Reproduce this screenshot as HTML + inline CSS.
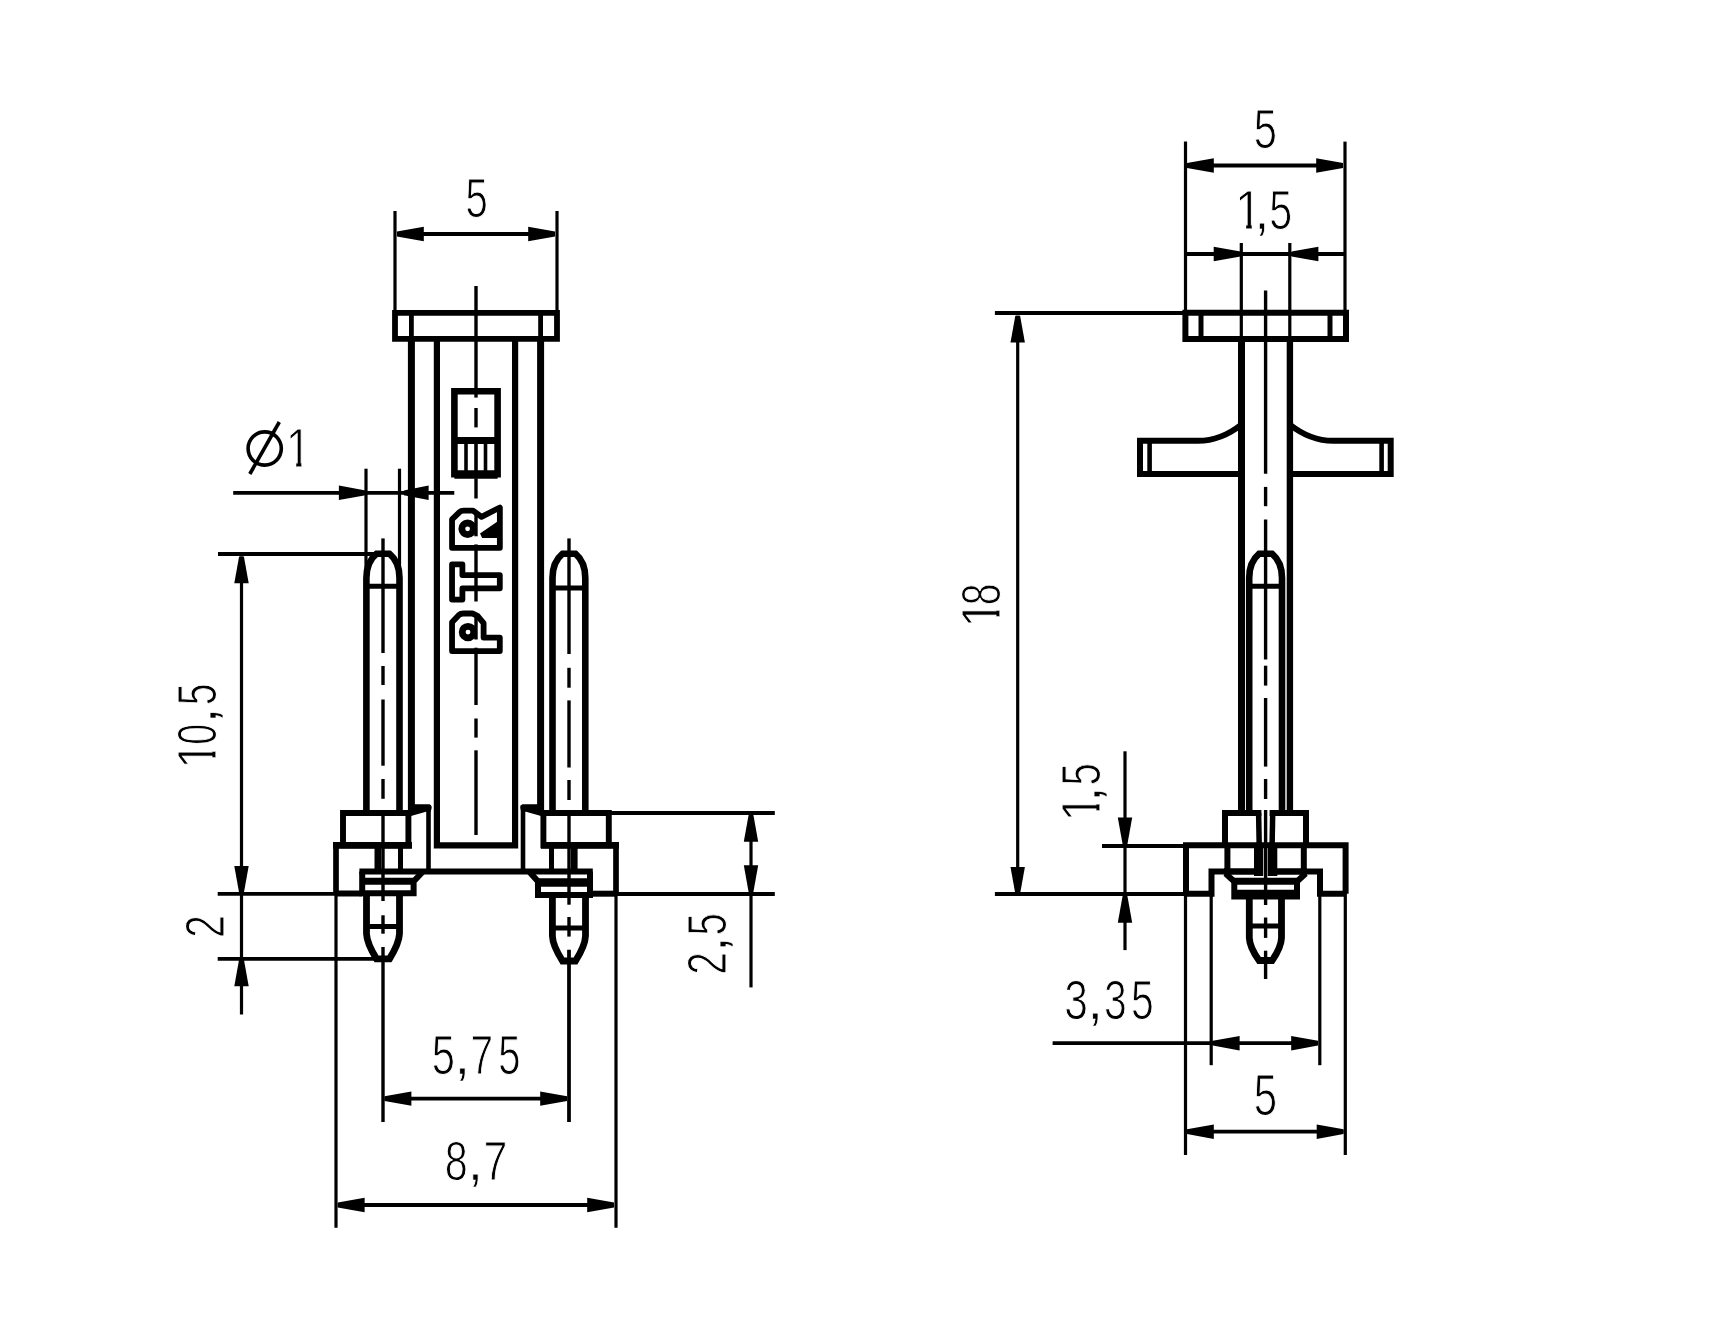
<!DOCTYPE html>
<html><head><meta charset="utf-8"><title>Connector drawing</title>
<style>
html,body{margin:0;padding:0;background:#fff;width:1709px;height:1324px;overflow:hidden}
svg{display:block;will-change:transform}
svg line,svg path,svg circle{stroke:#000}
.fl{fill:#000;stroke:none}
text.cm{stroke-width:0.7px}
.ah{fill:#000;stroke:none}
text{font-family:"Liberation Sans",sans-serif;fill:#000;stroke:#fff;stroke-width:1.1px}
</style></head><body>
<svg width="1709" height="1324" viewBox="0 0 1709 1324">
<defs><clipPath id="c1" clipPathUnits="userSpaceOnUse"><path d="M-40 -80H60V-6H13.6V10H7.4V-6H-40Z"/></clipPath></defs>
<rect width="1709" height="1324" fill="#fff"/>
<g id="left">
<path d="M395 312.9H557V338.9H395Z" stroke-width="5.8" fill="none" stroke-linecap="butt" stroke-linejoin="miter"/>
<line x1="411.4" y1="338" x2="411.4" y2="813" stroke-width="7" stroke-linecap="butt"/>
<line x1="540.6" y1="338" x2="540.6" y2="813" stroke-width="7" stroke-linecap="butt"/>
<line x1="411.4" y1="313" x2="411.4" y2="339" stroke-width="4.8" stroke-linecap="butt"/>
<line x1="540.6" y1="313" x2="540.6" y2="339" stroke-width="4.8" stroke-linecap="butt"/>
<path d="M436.9 338.4V845.4H515.1V338.4" stroke-width="6.2" fill="none" stroke-linecap="butt" stroke-linejoin="miter"/>
<path class="fl" d="M414 804.2H429.5Q432.2 805.5 431.6 808.2L430.7 811.8H426L411 816H408Z"/>
<line x1="428.5" y1="805" x2="428.5" y2="871.4" stroke-width="4.6" stroke-linecap="butt"/>
<path class="fl" d="M538 804.2H522.5Q519.8 805.5 520.4 808.2L521.3 811.8H526L541 816H544Z"/>
<line x1="523" y1="805" x2="523" y2="871.4" stroke-width="4.6" stroke-linecap="butt"/>
<path d="M366.4 813V578Q366.4 562 376.5 553.8H389.5Q399.5 562 399.5 578V813" stroke-width="6.6" fill="none" stroke-linecap="butt" stroke-linejoin="miter"/>
<line x1="366.4" y1="586.3" x2="399.5" y2="586.3" stroke-width="4.9" stroke-linecap="butt"/>
<path d="M552.5 813V578Q552.5 562 562.5 553.8H575.5Q585.3 562 585.3 578V813" stroke-width="6.6" fill="none" stroke-linecap="butt" stroke-linejoin="miter"/>
<line x1="552.5" y1="588" x2="585.3" y2="588" stroke-width="4.9" stroke-linecap="butt"/>
<path d="M343 813H408.4V845.4H343Z" stroke-width="5.9" fill="none" stroke-linecap="butt" stroke-linejoin="miter"/>
<path d="M543.4 813H608.8V845.4H543.4Z" stroke-width="5.9" fill="none" stroke-linecap="butt" stroke-linejoin="miter"/>
<line x1="336" y1="842" x2="336" y2="893.5" stroke-width="5.7" stroke-linecap="butt"/>
<line x1="333" y1="845.3" x2="412" y2="845.3" stroke-width="6.8" stroke-linecap="butt"/>
<line x1="541" y1="845.3" x2="619" y2="845.3" stroke-width="6.8" stroke-linecap="butt"/>
<line x1="616" y1="842" x2="616" y2="893.7" stroke-width="5.7" stroke-linecap="butt"/>
<line x1="377.9" y1="845" x2="377.9" y2="871.4" stroke-width="6.8" stroke-linecap="butt"/>
<line x1="400.5" y1="845" x2="400.5" y2="871.4" stroke-width="5" stroke-linecap="butt"/>
<line x1="551.5" y1="845" x2="551.5" y2="871.4" stroke-width="5" stroke-linecap="butt"/>
<line x1="574.2" y1="845" x2="574.2" y2="871.4" stroke-width="6.8" stroke-linecap="butt"/>
<line x1="359.4" y1="871.4" x2="592.8" y2="871.4" stroke-width="6" stroke-linecap="butt"/>
<path d="M362.2 871.4V893.3H413.6V881.5L422.5 872" stroke-width="6" fill="none" stroke-linecap="butt" stroke-linejoin="miter"/>
<line x1="362" y1="881.3" x2="416" y2="881.3" stroke-width="7" stroke-linecap="butt"/>
<path d="M590 871.4V895H538V881.5L529.5 872" stroke-width="6" fill="none" stroke-linecap="butt" stroke-linejoin="miter"/>
<line x1="536" y1="882.4" x2="590" y2="882.4" stroke-width="8.5" stroke-linecap="butt"/>
<line x1="336" y1="893.5" x2="362.2" y2="893.5" stroke-width="6" stroke-linecap="butt"/>
<line x1="590" y1="893.7" x2="616" y2="893.7" stroke-width="6" stroke-linecap="butt"/>
<path d="M366.5 896V933.7Q366.8 943.2 376.5 958.9H389.5Q399.2 943.2 399.5 933.7V896" stroke-width="6.8" fill="none" stroke-linecap="butt" stroke-linejoin="miter"/>
<line x1="366.5" y1="926.4" x2="399.5" y2="926.4" stroke-width="5" stroke-linecap="butt"/>
<path d="M552.4 896V936Q552.7 945.5 562.5 961H575.5Q585.2 945.5 585.5 936V896" stroke-width="6.8" fill="none" stroke-linecap="butt" stroke-linejoin="miter"/>
<line x1="552.4" y1="928" x2="585.5" y2="928" stroke-width="5" stroke-linecap="butt"/>
<path d="M454.4 391.2H497.6V474.2H454.4Z" stroke-width="6.6" fill="none" stroke-linecap="butt" stroke-linejoin="miter"/>
<line x1="454" y1="440.5" x2="498" y2="440.5" stroke-width="6.8" stroke-linecap="butt"/>
<line x1="466" y1="443" x2="466" y2="471" stroke-width="3.6" stroke-linecap="butt"/>
<line x1="476" y1="443" x2="476" y2="471" stroke-width="3.6" stroke-linecap="butt"/>
<line x1="485.5" y1="443" x2="485.5" y2="471" stroke-width="3.6" stroke-linecap="butt"/>
<line x1="454.4" y1="474.5" x2="497.6" y2="474.5" stroke-width="8.5" stroke-linecap="butt"/>
<path d="M452.05 547.85V519.4L459.5 512.1Q461 510.7 463.5 510.7H473L481.5 516.8L499.85 507.5V547.85Z" stroke-width="5.8" fill="none" stroke-linecap="butt" stroke-linejoin="round"/>
<path class="fl" d="M497.5 521.5L480 533.5L482.2 538H498Z"/>
<circle cx="467.6" cy="528.8" r="5.8" stroke-width="6.8" fill="none"/>
<path d="M452.05 564.3H462.4V575.1H499.8V588.3H462.4V599.6H452.05Z" stroke-width="5.8" fill="none" stroke-linecap="butt" stroke-linejoin="round"/>
<path d="M452.05 651.1V622.3L458.7 615.2Q460.5 613.5 463.5 613.5H472.5L477.5 615.8L483.6 623.2V637.6H499.8V651.1Z" stroke-width="5.8" fill="none" stroke-linecap="butt" stroke-linejoin="round"/>
<circle cx="468" cy="632.1" r="5.8" stroke-width="6.8" fill="none"/>
<line x1="476" y1="286" x2="476" y2="397.6" stroke-width="3.4" stroke-linecap="butt"/>
<line x1="476" y1="408" x2="476" y2="427.4" stroke-width="3.4" stroke-linecap="butt"/>
<line x1="476" y1="478.3" x2="476" y2="498.5" stroke-width="3.4" stroke-linecap="butt"/>
<line x1="476" y1="511" x2="476" y2="536.3" stroke-width="3.4" stroke-linecap="butt"/>
<line x1="476" y1="544.4" x2="476" y2="601.5" stroke-width="3.4" stroke-linecap="butt"/>
<line x1="476" y1="614" x2="476" y2="639.5" stroke-width="3.4" stroke-linecap="butt"/>
<line x1="476" y1="647.7" x2="476" y2="705" stroke-width="3.4" stroke-linecap="butt"/>
<line x1="476" y1="718.5" x2="476" y2="737.6" stroke-width="3.4" stroke-linecap="butt"/>
<line x1="476" y1="750.3" x2="476" y2="835" stroke-width="3.4" stroke-linecap="butt"/>
<line x1="383" y1="538.4" x2="383" y2="653" stroke-width="3.4" stroke-linecap="butt"/>
<line x1="383" y1="666" x2="383" y2="685" stroke-width="3.4" stroke-linecap="butt"/>
<line x1="383" y1="699.5" x2="383" y2="765.7" stroke-width="3.4" stroke-linecap="butt"/>
<line x1="383" y1="779" x2="383" y2="798.8" stroke-width="3.4" stroke-linecap="butt"/>
<line x1="383" y1="812" x2="383" y2="901" stroke-width="3.4" stroke-linecap="butt"/>
<line x1="383" y1="915.3" x2="383" y2="933.7" stroke-width="3.4" stroke-linecap="butt"/>
<line x1="383" y1="947" x2="383" y2="1122" stroke-width="3.4" stroke-linecap="butt"/>
<line x1="569" y1="538.4" x2="569" y2="654" stroke-width="3.4" stroke-linecap="butt"/>
<line x1="569" y1="667.8" x2="569" y2="687.7" stroke-width="3.4" stroke-linecap="butt"/>
<line x1="569" y1="700.4" x2="569" y2="767.5" stroke-width="3.4" stroke-linecap="butt"/>
<line x1="569" y1="780" x2="569" y2="800" stroke-width="3.4" stroke-linecap="butt"/>
<line x1="569" y1="812" x2="569" y2="904.7" stroke-width="3.4" stroke-linecap="butt"/>
<line x1="569" y1="917" x2="569" y2="936.6" stroke-width="3.4" stroke-linecap="butt"/>
<line x1="569" y1="949.7" x2="569" y2="1122" stroke-width="3.4" stroke-linecap="butt"/>
<line x1="395" y1="211" x2="395" y2="313.6" stroke-width="3.2" stroke-linecap="butt"/>
<line x1="557" y1="211" x2="557" y2="313.6" stroke-width="3.2" stroke-linecap="butt"/>
<line x1="397" y1="234" x2="555" y2="234" stroke-width="3.8" stroke-linecap="butt"/>
<polygon class="ah" points="397,231.6 423.8,226.8 423.8,241.2 397,236.4"/>
<polygon class="ah" points="555,231.6 528.2,226.8 528.2,241.2 555,236.4"/>
<g transform="translate(467,216.8) scale(0.72,1)"><text x="-2.23" y="0" font-size="55.63">5</text></g>
<line x1="233.2" y1="492.8" x2="454.3" y2="492.8" stroke-width="3.8" stroke-linecap="butt"/>
<polygon class="ah" points="365.7,490.4 338.9,485.6 338.9,500 365.7,495.2"/>
<polygon class="ah" points="403.8,490.4 428.6,485.6 428.6,500 403.8,495.2"/>
<line x1="366" y1="468.7" x2="366" y2="580" stroke-width="3.2" stroke-linecap="butt"/>
<line x1="399.5" y1="468.7" x2="399.5" y2="580" stroke-width="3.2" stroke-linecap="butt"/>
<circle cx="264.7" cy="448.5" r="16.6" stroke-width="3.6" fill="none"/>
<line x1="249.8" y1="474" x2="279.3" y2="422" stroke-width="3.6" stroke-linecap="butt"/>
<g transform="translate(290.2,466.6) scale(0.82,1)"><text x="-5.53" y="0" font-size="55.34" clip-path="url(#c1)">1</text></g>
<line x1="241.5" y1="556.5" x2="241.5" y2="1014.5" stroke-width="3.2" stroke-linecap="butt"/>
<polygon class="ah" points="239.1,556.5 234.3,583.3 248.7,583.3 243.9,556.5"/>
<polygon class="ah" points="239.1,892.8 234.3,866 248.7,866 243.9,892.8"/>
<polygon class="ah" points="239.1,959.5 234.3,986.3 248.7,986.3 243.9,959.5"/>
<line x1="218" y1="554" x2="378" y2="554" stroke-width="3.8" stroke-linecap="butt"/>
<line x1="217.7" y1="893.8" x2="336" y2="893.8" stroke-width="3.8" stroke-linecap="butt"/>
<line x1="217.7" y1="958.8" x2="374" y2="958.8" stroke-width="3.8" stroke-linecap="butt"/>
<g transform="translate(216,763.9) rotate(-90) translate(0,0) scale(0.9,1)"><text x="-5.59" y="0" font-size="55.93" clip-path="url(#c1)">1</text></g>
<g transform="translate(216,763.9) rotate(-90) translate(20.4,0) scale(0.67,1)"><text x="-1.96" y="0" font-size="55.93">0</text></g>
<g transform="translate(216,763.9) rotate(-90) translate(45.7,0) scale(1,1)"><text x="-5.03" y="0" font-size="55.93" class="cm">,</text></g>
<g transform="translate(216,763.9) rotate(-90) translate(60.3,0) scale(0.7,1)"><text x="-2.24" y="0" font-size="55.93">5</text></g>
<g transform="translate(224,936) rotate(-90) translate(0,0) scale(0.74,1)"><text x="-2.8" y="0" font-size="55.93">2</text></g>
<line x1="608.8" y1="813" x2="774.8" y2="813" stroke-width="3.8" stroke-linecap="butt"/>
<line x1="616" y1="894" x2="774.8" y2="894" stroke-width="3.8" stroke-linecap="butt"/>
<line x1="751" y1="815" x2="751" y2="987.4" stroke-width="3.2" stroke-linecap="butt"/>
<polygon class="ah" points="748.6,815 743.8,841.8 758.2,841.8 753.4,815"/>
<polygon class="ah" points="748.6,892 743.8,865.2 758.2,865.2 753.4,892"/>
<g transform="translate(726.1,972.7) rotate(-90) translate(0,0) scale(0.73,1)"><text x="-2.8" y="0" font-size="55.93">2</text></g>
<g transform="translate(726.1,972.7) rotate(-90) translate(25.8,0) scale(1,1)"><text x="-5.03" y="0" font-size="55.93" class="cm">,</text></g>
<g transform="translate(726.1,972.7) rotate(-90) translate(38.7,0) scale(0.72,1)"><text x="-2.24" y="0" font-size="55.93">5</text></g>
<line x1="569" y1="950" x2="569" y2="1122" stroke-width="3.2" stroke-linecap="butt"/>
<line x1="384.6" y1="1098.6" x2="567" y2="1098.6" stroke-width="3.8" stroke-linecap="butt"/>
<polygon class="ah" points="384.6,1096.2 411.4,1091.4 411.4,1105.8 384.6,1101"/>
<polygon class="ah" points="567,1096.2 540.2,1091.4 540.2,1105.8 567,1101"/>
<g transform="translate(433.3,1074.3) scale(0.74,1)"><text x="-2.25" y="0" font-size="56.37">5</text></g>
<g transform="translate(459.5,1074.3) scale(1,1)"><text x="-5.07" y="0" font-size="56.37" class="cm">,</text></g>
<g transform="translate(472.6,1074.3) scale(0.72,1)"><text x="-2.82" y="0" font-size="56.37">7</text></g>
<g transform="translate(499.8,1074.3) scale(0.71,1)"><text x="-2.25" y="0" font-size="56.37">5</text></g>
<line x1="336" y1="893.5" x2="336" y2="1227.8" stroke-width="3.2" stroke-linecap="butt"/>
<line x1="616" y1="893.7" x2="616" y2="1227.8" stroke-width="3.2" stroke-linecap="butt"/>
<line x1="337.8" y1="1205" x2="614" y2="1205" stroke-width="3.8" stroke-linecap="butt"/>
<polygon class="ah" points="337.8,1202.6 364.6,1197.8 364.6,1212.2 337.8,1207.4"/>
<polygon class="ah" points="614,1202.6 587.2,1197.8 587.2,1212.2 614,1207.4"/>
<g transform="translate(446.4,1180) scale(0.75,1)"><text x="-2.2" y="0" font-size="55.05">8</text></g>
<g transform="translate(472.6,1180) scale(1,1)"><text x="-4.95" y="0" font-size="55.05" class="cm">,</text></g>
<g transform="translate(485.7,1180) scale(0.78,1)"><text x="-2.75" y="0" font-size="55.05">7</text></g>
</g>
<g id="right">
<path d="M1185.4 312.8H1346V338.9H1185.4Z" stroke-width="6" fill="none" stroke-linecap="butt" stroke-linejoin="miter"/>
<line x1="1201" y1="314" x2="1201" y2="338.5" stroke-width="5" stroke-linecap="butt"/>
<line x1="1330" y1="314" x2="1330" y2="338.5" stroke-width="5" stroke-linecap="butt"/>
<line x1="1241.5" y1="338.5" x2="1241.5" y2="813" stroke-width="7" stroke-linecap="butt"/>
<line x1="1289.9" y1="338.5" x2="1289.9" y2="813" stroke-width="6.4" stroke-linecap="butt"/>
<path d="M1241.5 424.5Q1221 440.8 1198 440.8H1140V473.9H1241.5" stroke-width="6" fill="none" stroke-linecap="butt" stroke-linejoin="miter"/>
<line x1="1149.6" y1="440.8" x2="1149.6" y2="474" stroke-width="4.6" stroke-linecap="butt"/>
<path d="M1289.7 424.5Q1310.2 440.8 1333.2 440.8H1390.7V473.9H1289.7" stroke-width="6" fill="none" stroke-linecap="butt" stroke-linejoin="miter"/>
<line x1="1381.6" y1="440.8" x2="1381.6" y2="474" stroke-width="4.6" stroke-linecap="butt"/>
<path d="M1249.2 813V578Q1249.2 562 1259.1 553.8H1272.1Q1282 562 1282 578V813" stroke-width="6.6" fill="none" stroke-linecap="butt" stroke-linejoin="miter"/>
<line x1="1249.2" y1="586.3" x2="1282" y2="586.3" stroke-width="4.9" stroke-linecap="butt"/>
<path d="M1225 845.3V813H1261.4" stroke-width="6" fill="none" stroke-linecap="butt" stroke-linejoin="miter"/>
<path d="M1269.6 813H1306V845.3" stroke-width="6" fill="none" stroke-linecap="butt" stroke-linejoin="miter"/>
<path d="M1258.6 813L1259.8 876" stroke-width="5.5" fill="none" stroke-linecap="butt" stroke-linejoin="miter"/>
<path d="M1272.7 813L1271.5 876" stroke-width="5.5" fill="none" stroke-linecap="butt" stroke-linejoin="miter"/>
<line x1="1262" y1="845" x2="1262" y2="876" stroke-width="2.5" stroke-linecap="butt"/>
<line x1="1269" y1="845" x2="1269" y2="876" stroke-width="2.5" stroke-linecap="butt"/>
<path d="M1186 893.8V845.3H1345.6V893.8" stroke-width="6" fill="none" stroke-linecap="butt" stroke-linejoin="miter"/>
<path d="M1186 893.8H1211.5V871.4H1227" stroke-width="6" fill="none" stroke-linecap="butt" stroke-linejoin="miter"/>
<line x1="1224" y1="871.5" x2="1260" y2="871.5" stroke-width="6.5" stroke-linecap="butt"/>
<path d="M1225.5 873.5L1234.3 881.5" stroke-width="6" fill="none" stroke-linecap="butt" stroke-linejoin="miter"/>
<path d="M1345.6 893.8H1320V871.4H1304" stroke-width="6" fill="none" stroke-linecap="butt" stroke-linejoin="miter"/>
<line x1="1271" y1="871.5" x2="1307" y2="871.5" stroke-width="6.5" stroke-linecap="butt"/>
<path d="M1305.7 873.5L1297 881.5" stroke-width="6" fill="none" stroke-linecap="butt" stroke-linejoin="miter"/>
<line x1="1227.4" y1="845.3" x2="1227.4" y2="871.4" stroke-width="6" stroke-linecap="butt"/>
<line x1="1257" y1="845.3" x2="1257" y2="876" stroke-width="6" stroke-linecap="butt"/>
<line x1="1274.3" y1="845.3" x2="1274.3" y2="876" stroke-width="6" stroke-linecap="butt"/>
<line x1="1303.8" y1="845.3" x2="1303.8" y2="871.4" stroke-width="6" stroke-linecap="butt"/>
<path d="M1234.3 879V896.5H1297V879" stroke-width="6" fill="none" stroke-linecap="butt" stroke-linejoin="miter"/>
<line x1="1234" y1="881.3" x2="1297" y2="881.3" stroke-width="7" stroke-linecap="butt"/>
<line x1="1234" y1="894" x2="1297" y2="894" stroke-width="8.5" stroke-linecap="butt"/>
<path d="M1249.3 896V937.9Q1249.6 947.4 1259.1 960.5H1272.1Q1281.2 947.4 1281.5 937.9V896" stroke-width="6.8" fill="none" stroke-linecap="butt" stroke-linejoin="miter"/>
<line x1="1249.3" y1="926" x2="1281.5" y2="926" stroke-width="5" stroke-linecap="butt"/>
<line x1="1265.6" y1="290.5" x2="1265.6" y2="473.7" stroke-width="3.4" stroke-linecap="butt"/>
<line x1="1265.6" y1="486.9" x2="1265.6" y2="506.2" stroke-width="3.4" stroke-linecap="butt"/>
<line x1="1265.6" y1="519.4" x2="1265.6" y2="659.4" stroke-width="3.4" stroke-linecap="butt"/>
<line x1="1265.6" y1="665.7" x2="1265.6" y2="685.6" stroke-width="3.4" stroke-linecap="butt"/>
<line x1="1265.6" y1="698" x2="1265.6" y2="766.6" stroke-width="3.4" stroke-linecap="butt"/>
<line x1="1265.6" y1="779" x2="1265.6" y2="799" stroke-width="3.4" stroke-linecap="butt"/>
<line x1="1265.6" y1="810" x2="1265.6" y2="905" stroke-width="3.4" stroke-linecap="butt"/>
<line x1="1265.6" y1="917.5" x2="1265.6" y2="937.9" stroke-width="3.4" stroke-linecap="butt"/>
<line x1="1265.6" y1="950.7" x2="1265.6" y2="979" stroke-width="3.4" stroke-linecap="butt"/>
<line x1="1185.5" y1="141.6" x2="1185.5" y2="314" stroke-width="3.2" stroke-linecap="butt"/>
<line x1="1345" y1="141.6" x2="1345" y2="314" stroke-width="3.2" stroke-linecap="butt"/>
<line x1="1187" y1="165.5" x2="1343" y2="165.5" stroke-width="3.8" stroke-linecap="butt"/>
<polygon class="ah" points="1187,163.1 1213.8,158.3 1213.8,172.7 1187,167.9"/>
<polygon class="ah" points="1343,163.1 1316.2,158.3 1316.2,172.7 1343,167.9"/>
<g transform="translate(1255.3,148.1) scale(0.74,1)"><text x="-2.25" y="0" font-size="56.37">5</text></g>
<line x1="1241.3" y1="243" x2="1241.3" y2="338.5" stroke-width="3.2" stroke-linecap="butt"/>
<line x1="1289.8" y1="243" x2="1289.8" y2="338.5" stroke-width="3.2" stroke-linecap="butt"/>
<line x1="1186.5" y1="254" x2="1344.6" y2="254" stroke-width="3.8" stroke-linecap="butt"/>
<polygon class="ah" points="1240.5,251.6 1213.7,246.8 1213.7,261.2 1240.5,256.4"/>
<polygon class="ah" points="1291.6,251.6 1318.4,246.8 1318.4,261.2 1291.6,256.4"/>
<g transform="translate(1239.6,228.7) scale(0.89,1)"><text x="-5.5" y="0" font-size="55.05" clip-path="url(#c1)">1</text></g>
<g transform="translate(1259.2,228.7) scale(1,1)"><text x="-4.95" y="0" font-size="55.05" class="cm">,</text></g>
<g transform="translate(1271,228.7) scale(0.75,1)"><text x="-2.2" y="0" font-size="55.05">5</text></g>
<line x1="994.9" y1="313" x2="1185" y2="313" stroke-width="3.8" stroke-linecap="butt"/>
<line x1="1017.7" y1="315.8" x2="1017.7" y2="893.7" stroke-width="3.2" stroke-linecap="butt"/>
<polygon class="ah" points="1015.3,315.8 1010.5,342.6 1024.9,342.6 1020.1,315.8"/>
<polygon class="ah" points="1015.3,893.7 1010.5,866.9 1024.9,866.9 1020.1,893.7"/>
<line x1="994.9" y1="894" x2="1186" y2="894" stroke-width="3.8" stroke-linecap="butt"/>
<g transform="translate(1000,622.9) rotate(-90) translate(0,0) scale(0.89,1)"><text x="-5.59" y="0" font-size="55.93" clip-path="url(#c1)">1</text></g>
<g transform="translate(1000,622.9) rotate(-90) translate(19.1,0) scale(0.7,1)"><text x="-2.24" y="0" font-size="55.93">8</text></g>
<line x1="1125" y1="751.3" x2="1125" y2="950.1" stroke-width="3.2" stroke-linecap="butt"/>
<polygon class="ah" points="1122.6,844.2 1117.8,817.4 1132.2,817.4 1127.4,844.2"/>
<polygon class="ah" points="1122.6,896 1117.8,922.8 1132.2,922.8 1127.4,896"/>
<line x1="1102" y1="846" x2="1186" y2="846" stroke-width="3.8" stroke-linecap="butt"/>
<g transform="translate(1100.2,816.8) rotate(-90) translate(0,0) scale(0.9,1)"><text x="-5.59" y="0" font-size="55.93" clip-path="url(#c1)">1</text></g>
<g transform="translate(1100.2,816.8) rotate(-90) translate(19.9,0) scale(1,1)"><text x="-5.03" y="0" font-size="55.93" class="cm">,</text></g>
<g transform="translate(1100.2,816.8) rotate(-90) translate(32.9,0) scale(0.72,1)"><text x="-2.24" y="0" font-size="55.93">5</text></g>
<line x1="1211.2" y1="893" x2="1211.2" y2="1065.2" stroke-width="3.2" stroke-linecap="butt"/>
<line x1="1319.8" y1="893" x2="1319.8" y2="1065.2" stroke-width="3.2" stroke-linecap="butt"/>
<line x1="1052.6" y1="1043.2" x2="1318" y2="1043.2" stroke-width="3.8" stroke-linecap="butt"/>
<polygon class="ah" points="1212.8,1040.8 1239.6,1036 1239.6,1050.4 1212.8,1045.6"/>
<polygon class="ah" points="1318,1040.8 1291.2,1036 1291.2,1050.4 1318,1045.6"/>
<g transform="translate(1066,1018.9) scale(0.76,1)"><text x="-2.24" y="0" font-size="55.93">3</text></g>
<g transform="translate(1092.5,1018.9) scale(1,1)"><text x="-5.03" y="0" font-size="55.93" class="cm">,</text></g>
<g transform="translate(1105.6,1018.9) scale(0.73,1)"><text x="-2.24" y="0" font-size="55.93">3</text></g>
<g transform="translate(1132.7,1018.9) scale(0.73,1)"><text x="-2.24" y="0" font-size="55.93">5</text></g>
<line x1="1185.5" y1="893" x2="1185.5" y2="1155" stroke-width="3.2" stroke-linecap="butt"/>
<line x1="1345.3" y1="893" x2="1345.3" y2="1155" stroke-width="3.2" stroke-linecap="butt"/>
<line x1="1187" y1="1131.7" x2="1343.5" y2="1131.7" stroke-width="3.8" stroke-linecap="butt"/>
<polygon class="ah" points="1187,1129.3 1213.8,1124.5 1213.8,1138.9 1187,1134.1"/>
<polygon class="ah" points="1343.5,1129.3 1316.7,1124.5 1316.7,1138.9 1343.5,1134.1"/>
<g transform="translate(1255.3,1115.4) scale(0.74,1)"><text x="-2.27" y="0" font-size="56.81">5</text></g>
</g>
</svg>
</body></html>
